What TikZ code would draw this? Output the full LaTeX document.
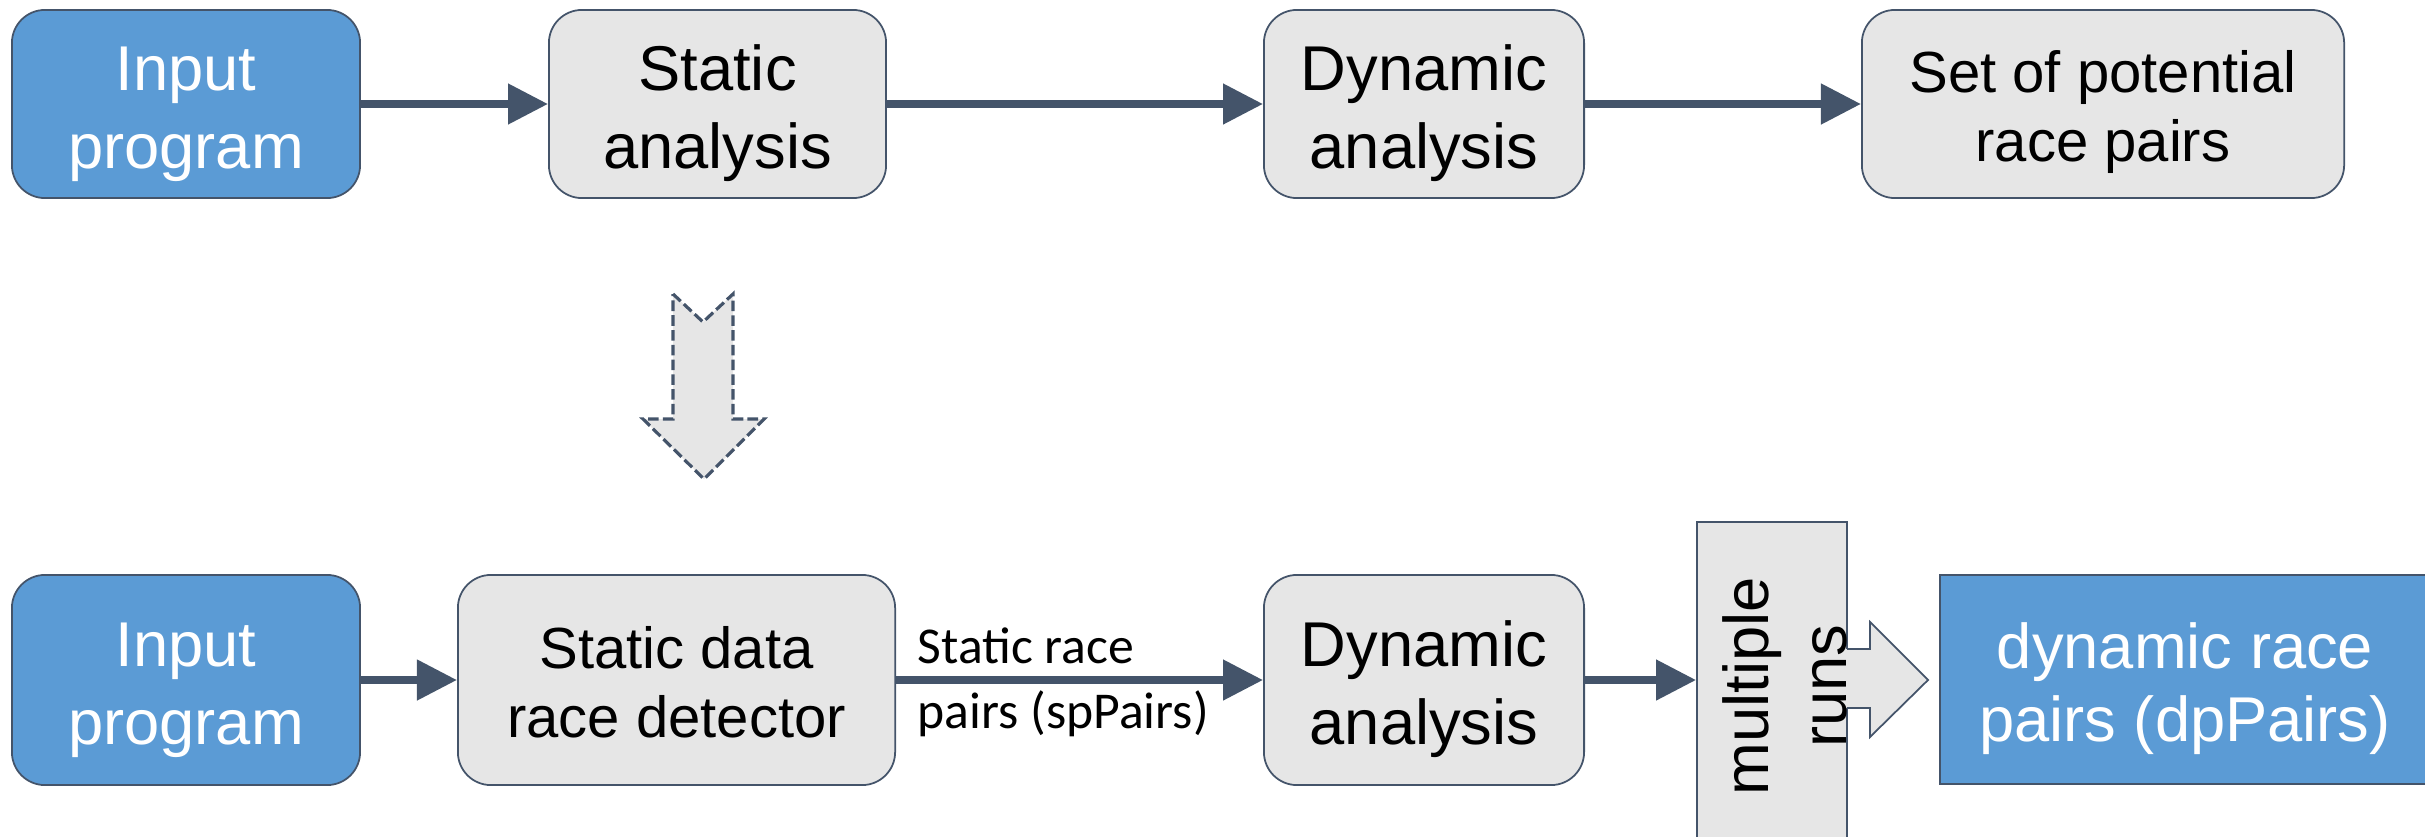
\documentclass[tikz,border=0pt]{standalone}
\usepackage{fontspec}
\setmainfont{Liberation Sans}
\newfontfamily\lblfont{Carlito}
\usepackage{tikz}
\usetikzlibrary{calc}
\usetikzlibrary{arrows.meta}

\definecolor{inblue}{HTML}{5B9BD5}
\definecolor{boxgray}{HTML}{E6E6E6}
\definecolor{edge}{HTML}{44546A}

% struts so that the two text lines sit like in the original
\newcommand{\tp}{\rule{0pt}{1.05em}}
\newcommand{\bt}{\rule[-0.25em]{0pt}{0pt}}

\tikzset{
	box/.style={draw=edge, line width=0.5pt, fill=boxgray, rounded corners=0.33cm, align=center, inner sep=0pt, text=black},
	inbox/.style={box, fill=inblue, text=white},
	bigtxt/.style={font=\fontsize{18}{22}\selectfont},
	smalltxt/.style={font=\fontsize{16.5}{19.5}\selectfont},
	restxt/.style={font=\fontsize{18}{20.7}\selectfont},
	flow/.style={draw=edge, line width=2.2pt, -{Triangle[length=4mm,width=3.9mm]}},
	lbl/.style={font=\lblfont\fontsize{14.7}{17}\selectfont, inner sep=0pt, anchor=base west},
}

\begin{document}
\begin{tikzpicture}[x=0.01cm, y=-0.01cm]
				\clip (0,0) rectangle (2425,836);

				% top row
				\node[inbox, bigtxt, minimum width=3.48cm, minimum height=1.88cm] (inp1) at (186,104) {\tp Input\\program\bt};
				\node[box, bigtxt, minimum width=3.37cm, minimum height=1.88cm] (sta1) at (717.5,104) {\tp Static\\analysis\bt};
				\node[box, bigtxt, minimum width=3.20cm, minimum height=1.88cm] (dyn1) at (1424,104) {\tp Dynamic\\analysis\bt};
				\node[box, smalltxt, minimum width=4.82cm, minimum height=1.88cm] (set1) at (2103,104) {\tp Set of potential\\race pairs\bt};

				\draw[flow] (inp1)--(sta1);
				\draw[flow] (sta1)--(dyn1);
				\draw[flow] (dyn1)--(set1);

				% dashed arrow between the rows
				\coordinate(a) at (673,294);
				\coordinate(b) at (703,322);
				\coordinate(c) at (733,294);
				\coordinate(d) at (733,419);
				\coordinate(e) at (764,419);
				\coordinate(f) at (704,479);
				\coordinate(g) at (643,419);
				\coordinate(h) at (673,419);
				\draw[draw=edge, fill=boxgray, line width=0.9pt, dash pattern=on 3pt off 1.2pt] (a)--(b)--(c)--(d)--(e)--(f)--(g)--(h)--cycle;

				% bottom row
				\node[inbox, bigtxt, minimum width=3.48cm, minimum height=2.10cm] (inp2) at (186,680) {\tp Input\\program\bt};
				\node[box, smalltxt, minimum width=4.37cm, minimum height=2.10cm] (det) at (676.5,680) {\tp Static data\\race detector\bt};
				\node[box, bigtxt, minimum width=3.20cm, minimum height=2.10cm] (dyn2) at (1424,680) {\tp Dynamic\\analysis\bt};
				\node[box, rounded corners=0pt, minimum width=1.50cm, minimum height=3.78cm] (runbox) at (1772,711) {};
				\node[inbox, restxt, rounded corners=0pt, minimum width=4.90cm, minimum height=2.09cm] (res) at (2185,679.5) {\tp dynamic race\\pairs (dpPairs)\bt};

				\draw[flow] (inp2)--(det);
				\draw[flow] (det)--(dyn2);
				\draw[flow] (dyn2.east)--(dyn2.east -| runbox.west);

				\node[lbl] (sr1) at (917,663) {Static race};
				\node[lbl] (sr2) at (917,728) {pairs (spPairs)};

				% block arrow out of the runs box
				\coordinate(p) at (1847,649);
				\coordinate(q) at (1870,649);
				\coordinate(r) at (1870,622);
				\coordinate(s) at (1928,680);
				\coordinate(t) at (1870,737);
				\coordinate(u) at (1870,708);
				\coordinate(v) at (1847,708);
				\fill[boxgray] ($(p)+(-2,0)$)--(q)--(r)--(s)--(t)--(u)--($(v)+(-2,0)$)--cycle;
				\draw[edge, line width=0.5pt] (p)--(q)--(r)--(s)--(t)--(u)--(v);

				\node[bigtxt, rotate=90, align=center, inner sep=0pt] (runtxt) at (1785,686) {multiple\\runs};

			\end{tikzpicture}
\end{document}
